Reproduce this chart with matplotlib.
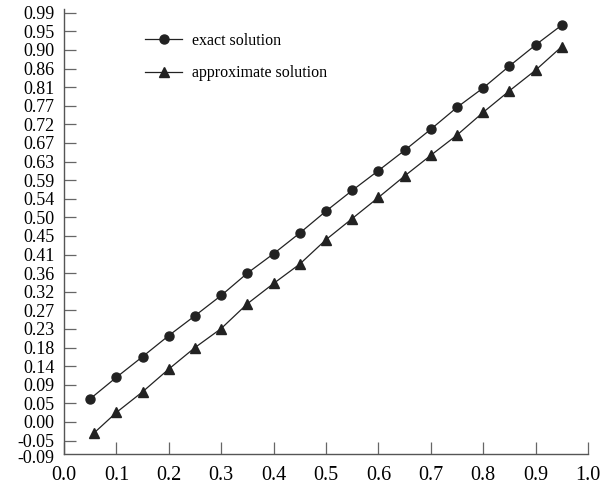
import numpy as np
import matplotlib
matplotlib.use("Agg")
import matplotlib.pyplot as plt
import matplotlib.transforms as mtransforms

# ── Data ──
x_exact = [0.05, 0.10, 0.15, 0.20, 0.25, 0.30, 0.35, 0.40, 0.45, 0.50,
           0.55, 0.60, 0.65, 0.70, 0.75, 0.80, 0.85, 0.90, 0.95]
y_exact = [0.056, 0.108, 0.158, 0.209, 0.257, 0.306, 0.360, 0.407, 0.457, 0.510,
           0.560, 0.608, 0.657, 0.708, 0.761, 0.808, 0.861, 0.912, 0.960]

x_approx = [0.057, 0.10, 0.15, 0.20, 0.25, 0.30, 0.35, 0.40, 0.45, 0.50,
            0.55, 0.60, 0.65, 0.70, 0.75, 0.80, 0.85, 0.90, 0.95]
y_approx = [-0.027, 0.023, 0.073, 0.128, 0.180, 0.226, 0.286, 0.335, 0.382, 0.441,
            0.492, 0.543, 0.595, 0.645, 0.694, 0.749, 0.801, 0.851, 0.908]

xtick_values = [0.0, 0.1, 0.2, 0.3, 0.4, 0.5, 0.6, 0.7, 0.8, 0.9, 1.0]
xtick_labels = ["0.0", "0.1", "0.2", "0.3", "0.4", "0.5", "0.6", "0.7", "0.8", "0.9", "1.0"]

ytick_values = [-0.0775, -0.045, 0.0, 0.045, 0.09, 0.135, 0.18, 0.225, 0.27, 0.315,
                0.36, 0.405, 0.45, 0.495, 0.54, 0.585, 0.63, 0.675, 0.72, 0.765,
                0.81, 0.855, 0.90, 0.945, 0.99]
ytick_labels = ["-0.09", "-0.05", "0.00", "0.05", "0.09", "0.14", "0.18", "0.23", "0.27", "0.32",
                "0.36", "0.41", "0.45", "0.50", "0.54", "0.59", "0.63", "0.67", "0.72", "0.77",
                "0.81", "0.86", "0.90", "0.95", "0.99"]

plt.rcParams["font.family"] = ["Liberation Serif", "DejaVu Serif"]

fig = plt.figure(figsize=(6.0, 4.94), dpi=100)
ax = fig.add_axes([0.1067, 0.081, 0.8733, 0.900])

line_color = "#222222"
ax.plot(x_exact, y_exact, "-o", color=line_color, lw=0.9, ms=6.5,
        label="exact solution")
ax.plot(x_approx, y_approx, "-^", color=line_color, lw=0.9, ms=7.5,
        label="approximate solution")

ax.set_xlim(0.0, 1.0)
ax.set_ylim(-0.0775, 0.998)

ax.set_xticks(xtick_values)
ax.set_xticklabels(xtick_labels)
ax.set_yticks(ytick_values)
ax.set_yticklabels(ytick_labels)

for side in ["top", "right"]:
    ax.spines[side].set_visible(False)
for side in ["left", "bottom"]:
    ax.spines[side].set_color("#555555")
    ax.spines[side].set_linewidth(1.0)

ax.tick_params(axis="x", direction="in", length=8.6, width=0.9, color="#666666",
               labelsize=14.5, pad=9)
ax.tick_params(axis="y", direction="in", length=8.6, width=0.9, color="#666666",
               labelsize=13, pad=7)
# bottom y tick coincides with the x axis; its label sits a little lower
bottom_tick = ax.yaxis.get_major_ticks()[0]
bottom_tick.tick1line.set_visible(False)
shift = mtransforms.ScaledTranslation(0, -3 / 100, fig.dpi_scale_trans)
bottom_tick.label1.set_transform(bottom_tick.label1.get_transform() + shift)

leg = ax.legend(loc="upper left", bbox_to_anchor=(0.143, 0.962), frameon=False,
                fontsize=11.5, handlelength=2.3, handletextpad=0.6, labelspacing=1.05,
                borderaxespad=0.0)

fig.savefig("out.png", dpi=100, facecolor="white")
